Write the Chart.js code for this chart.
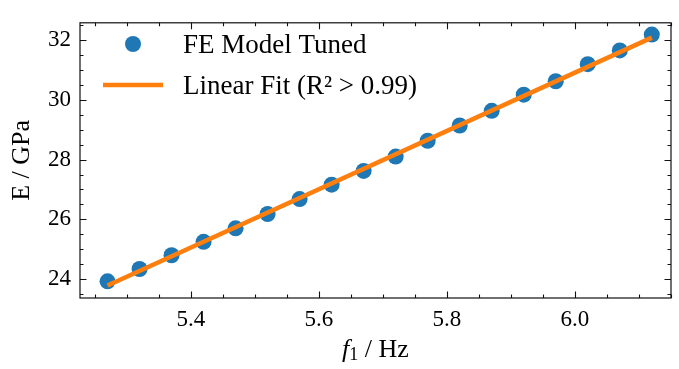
<!DOCTYPE html>
<html>
<head>
<meta charset="utf-8">
<script src="https://cdn.jsdelivr.net/npm/chart.js@4.4.0/dist/chart.umd.min.js"></script>
<style>
  html, body { margin: 0; padding: 0; background: #fff; }
  #wrap { width: 679px; height: 369px; }
</style>
</head>
<body>
<div id="wrap"><canvas id="chart"></canvas></div>
<script>
// measured first-mode frequency vs. tuned modulus
const freq = [5.27, 5.32, 5.37, 5.42, 5.47, 5.52, 5.57, 5.62, 5.67, 5.72, 5.77, 5.82, 5.87, 5.92, 5.97, 6.02, 6.07, 6.12];
const modulus = [23.93, 24.34, 24.80, 25.25, 25.70, 26.18, 26.68, 27.16, 27.62, 28.10, 28.63, 29.14, 29.63, 30.17, 30.62, 31.19, 31.65, 32.18];
// fit line end points
const fitX = [5.27, 6.12];
const fitY = [23.79, 32.08];

const xMajor = [5.4, 5.6, 5.8, 6.0];
const xMinor = [5.25, 5.3, 5.35, 5.45, 5.5, 5.55, 5.65, 5.7, 5.75, 5.85, 5.9, 5.95, 6.05, 6.1, 6.15];
const yMajor = [24, 26, 28, 30, 32];
const yMinor = [23.5, 24.5, 25, 25.5, 26.5, 27, 27.5, 28.5, 29, 29.5, 30.5, 31, 31.5, 32.5];

const seriesNames = ['FE Model Tuned', 'Linear Fit (R\u00b2 > 0.99)'];
const BLUE = '#1f77b4';
const ORANGE = '#ff7f0e';
const SERIF = '"Liberation Serif", "DejaVu Serif", serif';

// frame, inward ticks, legend and axis titles
const decorations = {
  id: 'decorations',
  afterDraw(chart) {
    const { ctx, chartArea: a, scales: { x, y } } = chart;
    ctx.save();
    ctx.strokeStyle = '#111';
    ctx.lineWidth = 1.2;
    ctx.strokeRect(a.left, a.top, a.right - a.left, a.bottom - a.top);

    ctx.lineWidth = 1.1;
    const tickX = (vals, len) => vals.forEach(v => {
      const px = Math.round(x.getPixelForValue(v)) + 0.5;
      ctx.beginPath();
      ctx.moveTo(px, a.bottom); ctx.lineTo(px, a.bottom - len);
      ctx.moveTo(px, a.top); ctx.lineTo(px, a.top + len);
      ctx.stroke();
    });
    const tickY = (vals, len) => vals.forEach(v => {
      const py = Math.round(y.getPixelForValue(v)) + 0.5;
      ctx.beginPath();
      ctx.moveTo(a.left, py); ctx.lineTo(a.left + len, py);
      ctx.moveTo(a.right, py); ctx.lineTo(a.right - len, py);
      ctx.stroke();
    });
    tickX(xMajor, 6.5); tickX(xMinor, 3.5);
    tickY(yMajor, 6.5); tickY(yMinor, 3.5);

    // legend
    ctx.fillStyle = BLUE;
    ctx.beginPath();
    ctx.arc(133, 44, 8, 0, Math.PI * 2);
    ctx.fill();
    ctx.strokeStyle = ORANGE;
    ctx.lineWidth = 4.5;
    ctx.beginPath();
    ctx.moveTo(103, 85); ctx.lineTo(163, 85);
    ctx.stroke();
    ctx.fillStyle = '#000';
    ctx.font = '27px ' + SERIF;
    ctx.textBaseline = 'middle';
    ctx.textAlign = 'left';
    ctx.fillText(seriesNames[0], 183, 46);
    ctx.fillText(seriesNames[1], 183, 87);

    // y title
    ctx.save();
    ctx.translate(22, (a.top + a.bottom) / 2);
    ctx.rotate(-Math.PI / 2);
    ctx.textAlign = 'center';
    ctx.font = '26px ' + SERIF;
    ctx.fillText('E / GPa', 0, 0);
    ctx.restore();

    // x title: italic f with subscript 1
    const parts = [
      { t: 'f', f: 'italic 26px ' + SERIF, dy: 0 },
      { t: '1', f: '18px ' + SERIF, dy: 5 },
      { t: ' / Hz', f: '26px ' + SERIF, dy: 0 }
    ];
    let total = 0;
    parts.forEach(p => { ctx.font = p.f; p.w = ctx.measureText(p.t).width; total += p.w; });
    let cx = (a.left + a.right) / 2 - total / 2;
    parts.forEach(p => {
      ctx.font = p.f;
      ctx.fillText(p.t, cx, 350 + p.dy);
      cx += p.w;
    });
    ctx.restore();
  }
};

new Chart(document.getElementById('chart'), {
  data: {
    datasets: [
      {
        type: 'line',
        label: seriesNames[1],
        data: fitX.map((v, i) => ({ x: v, y: fitY[i] })),
        borderColor: ORANGE,
        borderWidth: 4.5,
        pointRadius: 0,
        fill: false,
        order: 0
      },
      {
        type: 'scatter',
        label: seriesNames[0],
        data: freq.map((v, i) => ({ x: v, y: modulus[i] })),
        backgroundColor: BLUE,
        borderWidth: 0,
        pointRadius: 8,
        order: 1
      }
    ]
  },
  options: {
    responsive: true,
    maintainAspectRatio: false,
    animation: false,
    layout: { padding: { top: 9.5, right: 3.5, left: 0, bottom: 0 } },
    plugins: { legend: { display: false }, tooltip: { enabled: false } },
    scales: {
      x: {
        type: 'linear',
        min: 5.227,
        max: 6.150,
        afterBuildTicks: s => { s.ticks = xMajor.map(v => ({ value: v })); },
        afterFit: s => { s.height = 71; },
        grid: { display: false, drawTicks: false },
        border: { display: false },
        ticks: {
          color: '#000',
          padding: 8,
          maxRotation: 0,
          font: { family: SERIF, size: 23 },
          callback: v => v.toFixed(1)
        }
      },
      y: {
        type: 'linear',
        min: 23.371,
        max: 32.575,
        afterBuildTicks: s => { s.ticks = yMajor.map(v => ({ value: v })); },
        afterFit: s => { s.width = 80; },
        grid: { display: false, drawTicks: false },
        border: { display: false },
        ticks: {
          color: '#000',
          padding: 9,
          font: { family: SERIF, size: 23 },
          callback: v => String(v)
        }
      }
    }
  },
  plugins: [decorations]
});
</script>
</body>
</html>
